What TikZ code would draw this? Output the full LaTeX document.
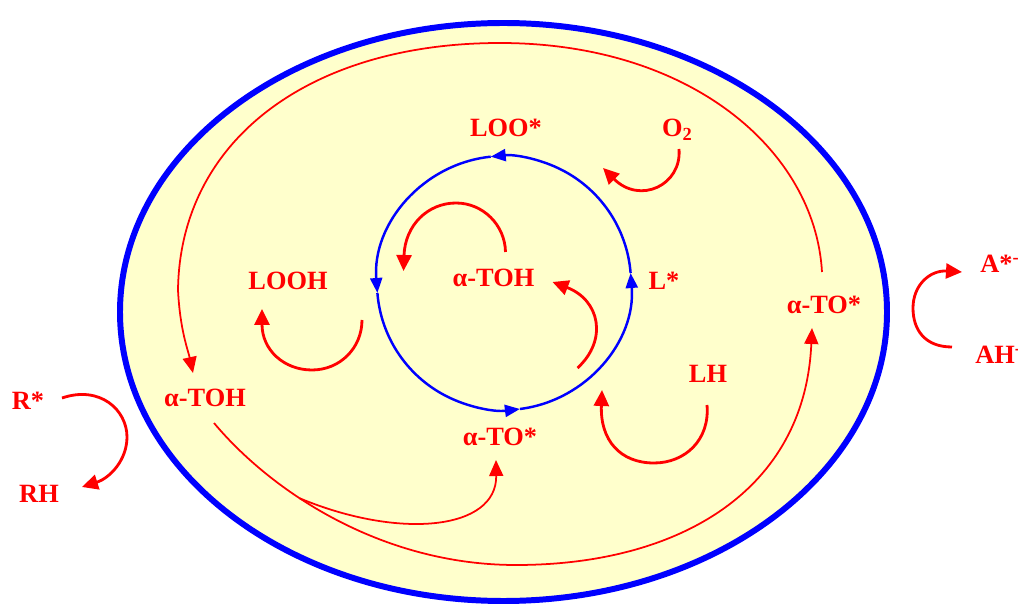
\documentclass[tikz,border=0pt]{standalone}
\usepackage{fontspec}
\setmainfont{Liberation Serif}
\usetikzlibrary{arrows.meta}
\definecolor{cellyellow}{HTML}{FFFFCC}

\begin{document}
\begin{tikzpicture}[x=0.02cm, y=-0.02cm,
  lbl/.style={text=red, font=\fontsize{15}{18}\selectfont\bfseries, inner sep=0pt, anchor=base},
  thinarc/.style={red, line width=1pt, -{Triangle[length=0.32cm, width=0.28cm]}},
  thickarc/.style={red, line width=1.6pt, -{Triangle[length=0.32cm, width=0.3cm]}},
  cyclearc/.style={blue, line width=1.4pt, -{Triangle[length=0.3cm, width=0.24cm]}}]
	\useasboundingbox (0,0) rectangle (1018,604);
	% cell membrane
	\draw[blue, line width=3.4pt, fill=cellyellow] (503.5,312) ellipse[x radius=383.5, y radius=289];
	% species
	\node[lbl] (loo) at (506,137) {LOO*};
	\node[lbl] (otwo) at (677.5,137) {O\textsubscript{2}};
	\node[lbl] (tohin) at (493.5,287) {α-TOH};
	\node[lbl] (looh) at (288,290) {LOOH};
	\node[lbl] (lrad) at (664,290) {L*};
	\node[lbl] (toright) at (824,314) {α-TO*};
	\node[lbl] (lh) at (708,383) {LH};
	\node[lbl] (tohleft) at (205,407) {α-TOH};
	\node[lbl] (tobottom) at (500,446) {α-TO*};
	\node[lbl] (rrad) at (28,410) {R*};
	\node[lbl] (rh) at (39,502) {RH};
	\node[lbl, anchor=base west] (arad) at (980,273) {A*\textsuperscript{-}};
	\node[lbl, anchor=base west] (ah) at (975,364) {AH\textsuperscript{-}};
	% peroxidation cycle
	\coordinate (cyc) at (504,283);
	\foreach \a/\b in {-4.5/-96, -96/-184.5, -184.5/-277.2, -277.2/-364.5}
		\draw[cyclearc] ([shift={(\a:127)}]cyc) arc[start angle=\a, end angle=\b, radius=127];
	% tocopherol loop
	\draw[thinarc] ([shift={(-2,-42)}]toright.base) .. controls (815,150) and (690,43) .. (500,43)
		.. controls (310,43) and (180,140) .. (178,290)
		.. controls (180,330) and (188,350) .. ([shift={(-12,-34)}]tohleft.base);
	\draw[thinarc] ([shift={(9,16)}]tohleft.base) .. controls (270,490) and (380,565) .. coordinate[pos=0.38] (branch) (516,565)
		.. controls (680,565) and (805,490) .. ([shift={(-12,14)}]toright.base);
	\draw[thinarc] (branch) .. controls (400,540) and (497,530) .. ([shift={(-4,14)}]tobottom.base);
	% small reaction arrows
	\draw[thickarc] ([shift={(74,30)}]looh.base) .. controls (362,348) and (340,370) .. (312,370)
		.. controls (284,370) and (262,350) .. ([shift={(-26,19)}]looh.base);
	\draw[thickarc] ([shift={(12,-35)}]tohin.base) .. controls (505,225) and (483,203) .. (456,203)
		.. controls (428,203) and (405,225) .. ([shift={(-90,-16)}]tohin.base);
	\draw[thickarc] ([shift={(84,81)}]tohin.base) .. controls (608,340) and (600,300) .. ([shift={(59,-5)}]tohin.base);
	\draw[thickarc] ([shift={(-1,22)}]lh.base) .. controls (710,440) and (685,463) .. (654,463)
		.. controls (620,463) and (600,440) .. ([shift={(-106,7)}]lh.base);
	\draw[thickarc] ([shift={(1.5,12)}]otwo.base) .. controls (682,185) and (640,205) .. ([shift={(-74.5,31)}]otwo.base);
	\draw[thickarc] ([shift={(34,-12)}]rrad.base) .. controls (100,385) and (127,410) .. (127,437)
		.. controls (127,460) and (110,478) .. ([shift={(43,-15)}]rh.base);
	\draw[thickarc] ([shift={(-23,-17)}]ah.base west) .. controls (925,347) and (913,330) .. (913,308)
		.. controls (913,285) and (930,270) .. ([shift={(-18,-1)}]arad.base west);
\end{tikzpicture}
\end{document}
